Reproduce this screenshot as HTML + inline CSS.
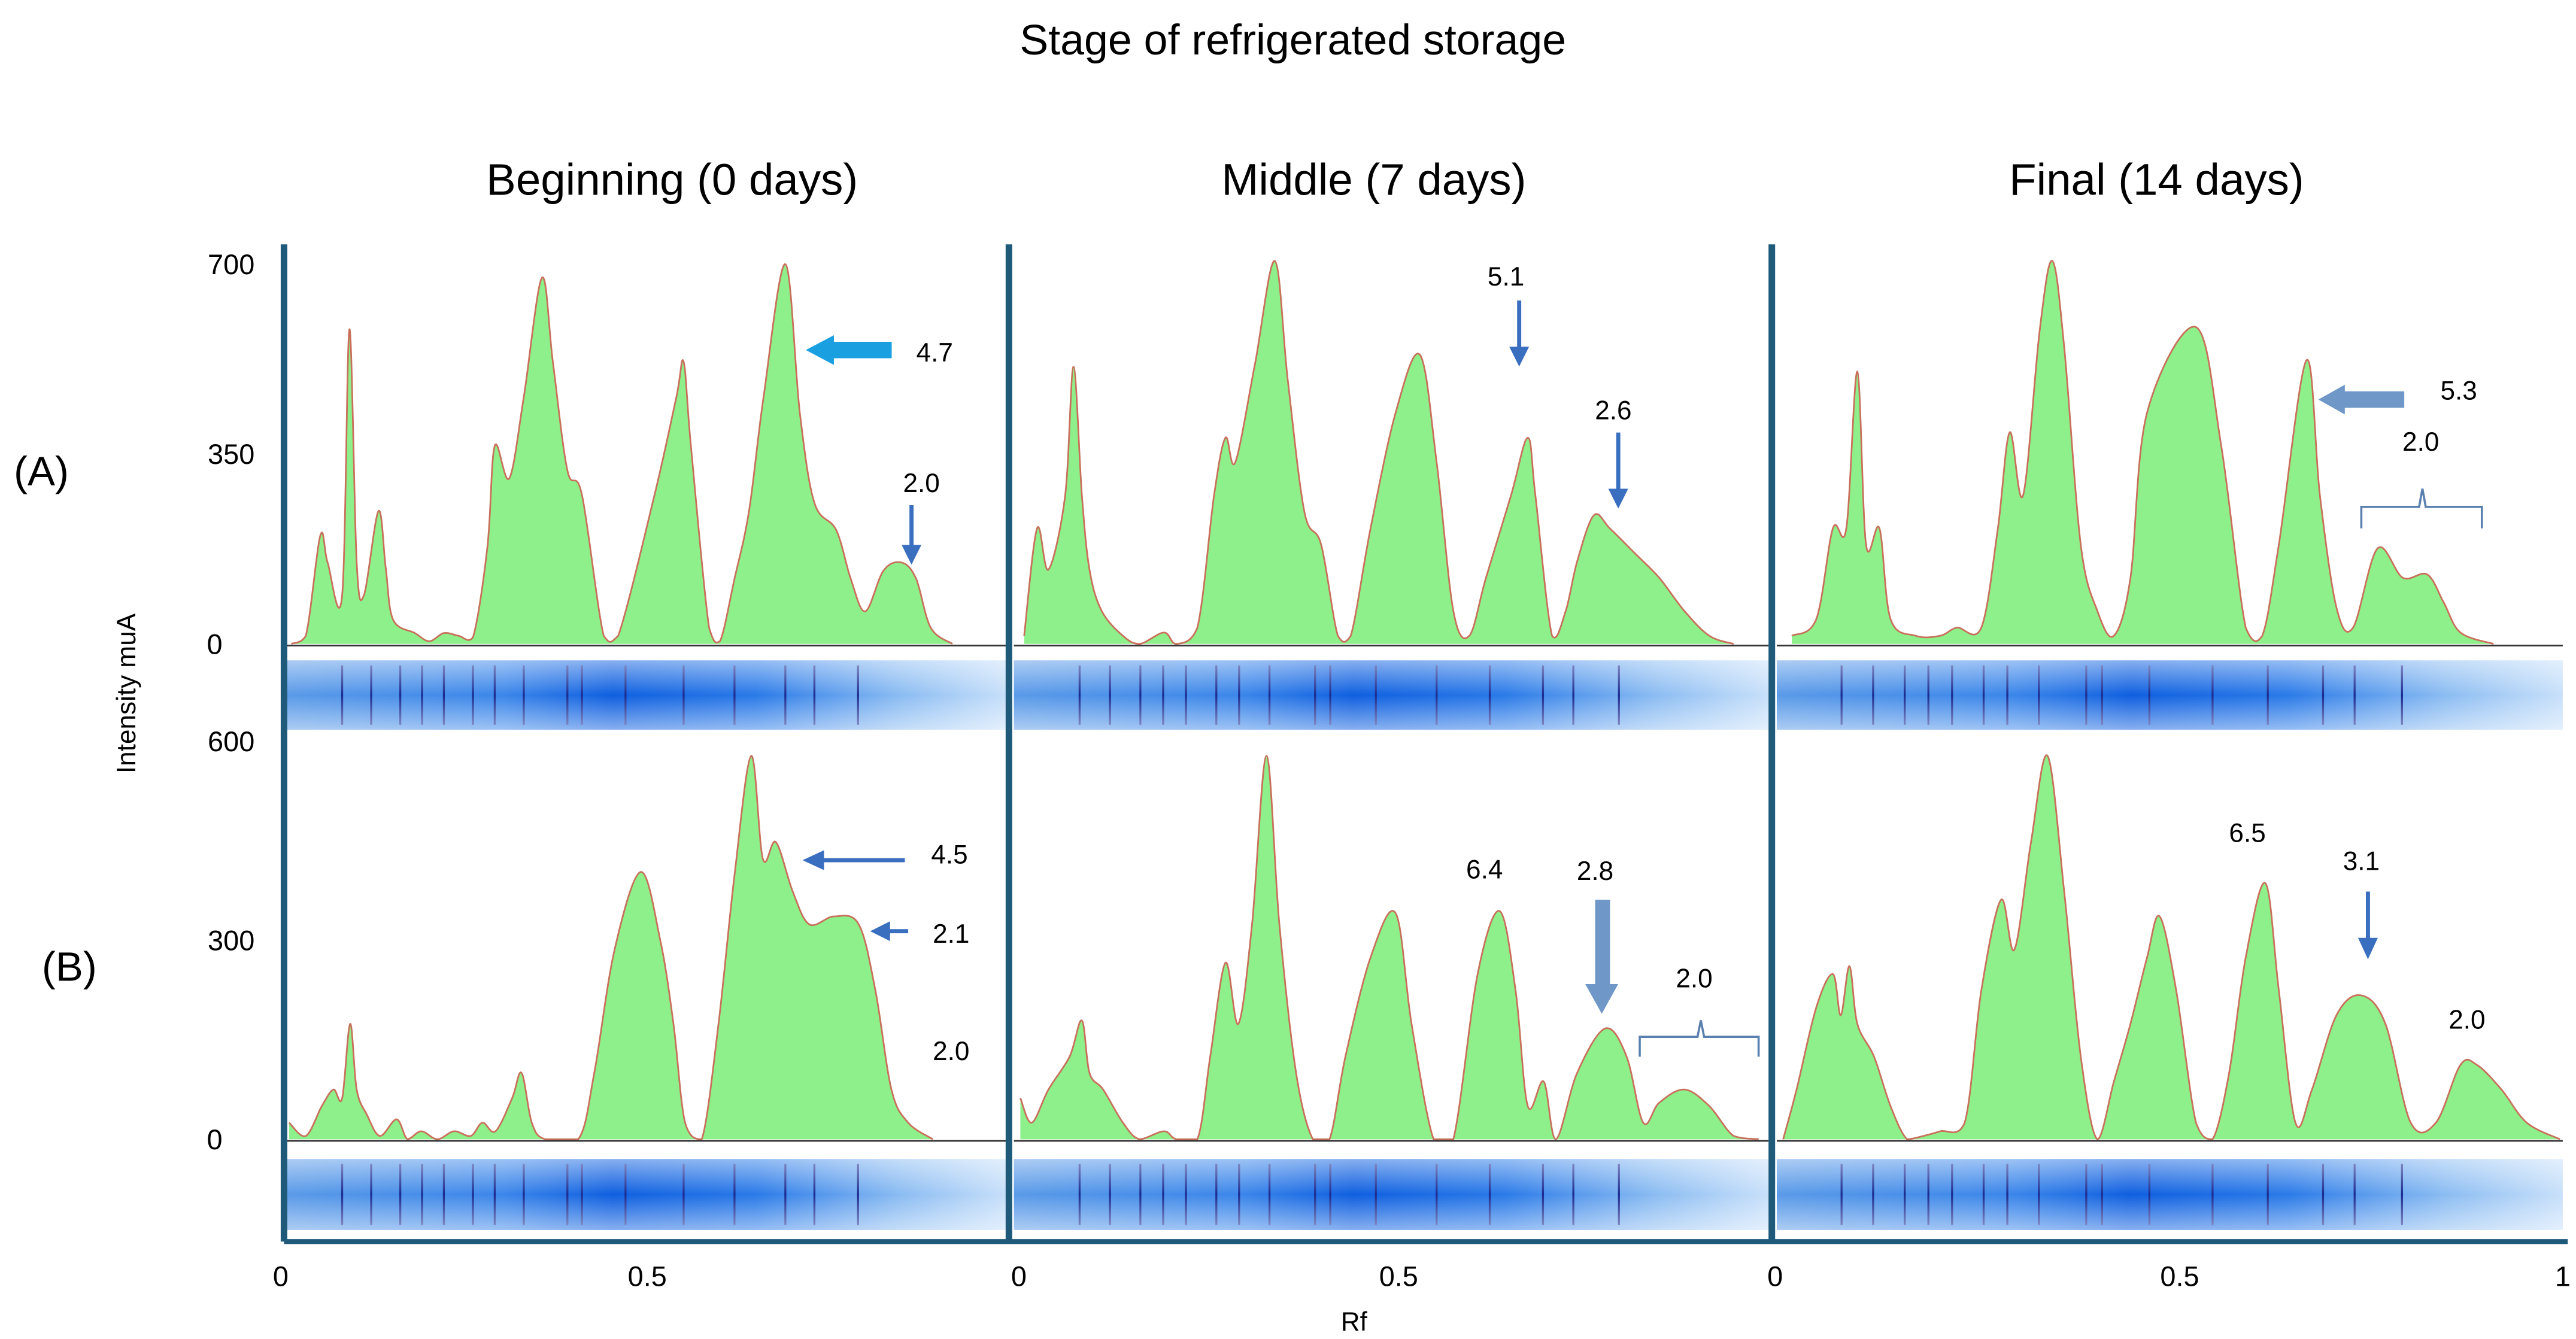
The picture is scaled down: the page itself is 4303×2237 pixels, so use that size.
<!DOCTYPE html>
<html><head><meta charset="utf-8"><style>
html,body{margin:0;padding:0;background:#fff;}
svg{display:block;font-family:"Liberation Sans",sans-serif;}
</style></head><body>
<svg id="chart" width="4303" height="2237" viewBox="0 0 1560 811" xmlns="http://www.w3.org/2000/svg">
<defs>
<linearGradient id="band" x1="0" x2="1" y1="0" y2="0">
<stop offset="0" stop-color="#5a9ae8"/><stop offset="0.3" stop-color="#3b86ea"/><stop offset="0.45" stop-color="#0f5fe0"/><stop offset="0.65" stop-color="#2a7ae8"/><stop offset="0.85" stop-color="#8bbcf2"/><stop offset="1" stop-color="#c8e0fa"/>
</linearGradient>
<linearGradient id="bandv" x1="0" x2="0" y1="0" y2="1">
<stop offset="0" stop-color="#ffffff" stop-opacity="0.5"/><stop offset="0.5" stop-color="#ffffff" stop-opacity="0"/><stop offset="1" stop-color="#ffffff" stop-opacity="0.5"/>
</linearGradient>
</defs>
<text x="783" y="33" font-size="26" text-anchor="middle">Stage of  refrigerated storage</text>
<text x="407" y="118" font-size="27" text-anchor="middle">Beginning (0 days)</text>
<text x="832" y="118" font-size="27" text-anchor="middle">Middle (7 days)</text>
<text x="1306" y="118" font-size="27" text-anchor="middle">Final (14 days)</text>
<text x="25" y="294" font-size="25" text-anchor="middle">(A)</text>
<text x="42" y="594" font-size="25" text-anchor="middle">(B)</text>
<text transform="translate(82,420) rotate(-90)" font-size="16" text-anchor="middle">Intensity muA</text>
<text x="820" y="806" font-size="16" text-anchor="middle">Rf</text>
<g id="plots"></g>
<g id="annot" font-size="16" text-anchor="middle">
<text x="566" y="219">4.7</text>
<text x="558" y="298">2.0</text>
<text x="912" y="173">5.1</text>
<text x="977" y="254">2.6</text>
<text x="1489" y="242">5.3</text>
<text x="1466" y="273">2.0</text>
<text x="575" y="523">4.5</text>
<text x="576" y="571">2.1</text>
<text x="576" y="642">2.0</text>
<text x="899" y="532">6.4</text>
<text x="966" y="533">2.8</text>
<text x="1026" y="598">2.0</text>
<text x="1361" y="510">6.5</text>
<text x="1430" y="527">3.1</text>
<text x="1494" y="623">2.0</text>
</g>
<g id="arrows">
<polygon points="540,207 505,207 505,203 488,212 505,221 505,217 540,217" fill="#1aa0e0"/>
<g stroke="#3a6fc0" stroke-width="2.5" fill="#3a6fc0"><line x1="552" y1="306" x2="552" y2="332"/><polygon points="546,330 558,330 552,342" stroke="none"/></g>
<g stroke="#3a6fc0" stroke-width="2.5" fill="#3a6fc0"><line x1="920" y1="182" x2="920" y2="212"/><polygon points="914,210 926,210 920,222" stroke="none"/></g>
<g stroke="#3a6fc0" stroke-width="2.5" fill="#3a6fc0"><line x1="980" y1="262" x2="980" y2="298"/><polygon points="974,296 986,296 980,308" stroke="none"/></g>
<polygon points="1456,237 1420,237 1420,233 1404,242 1420,251 1420,247 1456,247" fill="#6f98c8"/>
<path d="M1430,320 L1430,307 L1465,307 L1467,296 L1469,307 L1503,307 L1503,320" fill="none" stroke="#5a80b0" stroke-width="1.3"/>
<g stroke="#3a6fc0" stroke-width="2.5" fill="#3a6fc0"><line x1="548" y1="521" x2="497" y2="521"/><polygon points="499,515 499,527 486,521" stroke="none"/></g>
<g stroke="#3a6fc0" stroke-width="2.5" fill="#3a6fc0"><line x1="550" y1="564" x2="537" y2="564"/><polygon points="539,558 539,570 527,564" stroke="none"/></g>
<polygon points="966,545 975,545 975,596 980,596 970,614 960,596 966,596" fill="#6f98c8"/>
<path d="M993,640 L993,628 L1028,628 L1030,618 L1032,628 L1065,628 L1065,640" fill="none" stroke="#5a80b0" stroke-width="1.3"/>
<g stroke="#3a6fc0" stroke-width="2.5" fill="#3a6fc0"><line x1="1434" y1="540" x2="1434" y2="570"/><polygon points="1428,568 1440,568 1434,581" stroke="none"/></g>
</g>
<g id="frame"></g>
</svg>
<script>
// Rf / intensity samples
const rfA1=[0.01,0.03,0.05,0.06,0.08,0.09,0.10,0.11,0.13,0.14,0.15,0.18,0.20,0.22,0.24,0.26,0.28,0.29,0.31,0.33,0.355,0.37,0.39,0.41,0.44,0.46,0.51,0.54,0.55,0.56,0.585,0.60,0.62,0.64,0.66,0.69,0.71,0.73,0.76,0.78,0.80,0.825,0.85,0.87,0.89,0.92];
const intA1=[0,15,200,150,90,580,150,90,245,140,45,20,5,20,15,12,180,365,305,455,675,520,320,275,15,15,275,455,520,365,30,5,120,245,455,700,425,260,210,120,60,135,150,120,30,0];
const rfA2=[.007,.024,.039,.061,.072,.083,.093,.109,.137,.159,.191,.207,.235,.257,.272,.285,.311,.337,.354,.376,.398,.42,.437,.463,.496,.528,.55,.572,.593,.615,.648,.67,.68,.702,.72,.735,.757,.778,.811,.843,.876,.909,.941];
const intA2=[15,213,137,274,511,274,137,61,15,0,21,0,30,274,380,335,517,706,487,243,183,15,15,213,426,533,335,61,15,122,274,380,274,15,61,152,237,213,167,122,61,15,0];
const rfA3=[.017,.048,.069,.086,.1,.111,.128,.142,.174,.205,.226,.257,.278,.293,.31,.331,.347,.362,.383,.404,.425,.446,.467,.529,.561,.592,.613,.634,.669,.686,.707,.728,.759,.791,.822,.843,.864,.906];
const intA3=[15,46,213,213,502,183,213,46,15,15,30,30,213,390,274,578,706,548,183,61,15,122,426,584,365,30,15,183,523,274,67,30,176,122,128,76,21,0];
const rfB1=[.007,.03,.052,.068,.08,.091,.1,.114,.132,.155,.17,.189,.211,.234,.257,.273,.291,.314,.327,.341,.359,.405,.427,.455,.491,.518,.536,.552,.575,.598,.62,.643,.659,.677,.7,.723,.757,.791,.814,.836,.859,.893];
const intB1=[25,5,50,75,62,174,75,37,5,30,0,12,0,12,5,25,12,62,100,25,0,0,100,286,403,299,174,25,0,174,398,578,423,448,374,324,336,324,224,75,25,0];
const rfB2=[.002,.017,.039,.067,.083,.093,.111,.137,.159,.191,.207,.235,.252,.272,.289,.307,.326,.343,.365,.387,.409,.43,.463,.496,.517,.546,.572,.604,.633,.654,.67,.691,.707,.735,.772,.8,.822,.843,.876,.909,.941,.974];
const intB2=[62,25,75,125,179,100,75,25,0,12,0,0,125,266,174,324,578,324,100,0,0,125,274,341,174,0,0,249,344,224,50,87,0,100,167,125,25,55,75,50,5,0];
const rfB3=[.006,.023,.048,.069,.079,.09,.1,.121,.142,.163,.184,.205,.236,.257,.282,.299,.32,.341,.362,.383,.404,.425,.446,.467,.483,.504,.529,.55,.571,.592,.617,.634,.655,.676,.707,.738,.769,.801,.833,.864,.885,.916,.948,.99];
const intB3=[0,75,199,249,187,261,174,125,50,0,5,12,25,224,361,286,448,578,374,125,0,87,174,274,336,224,25,0,100,274,386,224,25,75,187,217,174,25,25,112,112,75,25,0];
const yTicksA=[0,350,700];
const yTicksB=[0,300,600];
const xTickVals=[0,0.5];
const xTickLabels=["0","0.5"];

const NS="http://www.w3.org/2000/svg";
const plots=document.getElementById('plots');
const frame=document.getElementById('frame');
function mk(tag,attrs,parent){const e=document.createElementNS(NS,tag);for(const k in attrs)e.setAttribute(k,attrs[k]);parent.appendChild(e);return e;}
const cols=[{x0:172,w:440,bx:174,bw:437},{x0:617,w:460,bx:614,bw:457},{x0:1077,w:478,bx:1076,bw:476}];
const rows=[{y0:390,ymax:700,h:230,bandY:400,bandH:42},{y0:690,ymax:600,h:241,bandY:702,bandH:43}];
function xS(c,rf){return c.x0+rf*c.w;}
function yS(r,v){return r.y0-v/r.ymax*r.h;}
const series=[[rfA1,intA1],[rfA2,intA2],[rfA3,intA3],[rfB1,intB1],[rfB2,intB2],[rfB3,intB3]];
const bandLines=[0.08,0.12,0.16,0.19,0.22,0.26,0.29,0.33,0.39,0.41,0.47,0.55,0.62,0.69,0.73,0.79];
function smooth(pts,yb){let d=`M${pts[0][0]},${pts[0][1]}`;for(let i=0;i<pts.length-1;i++){const p0=pts[Math.max(0,i-1)],p1=pts[i],p2=pts[i+1],p3=pts[Math.min(pts.length-1,i+2)];const c1x=p1[0]+(p2[0]-p0[0])/6,c1y=Math.min(yb,p1[1]+(p2[1]-p0[1])/6),c2x=p2[0]-(p3[0]-p1[0])/6,c2y=Math.min(yb,p2[1]-(p3[1]-p1[1])/6);d+=` C${c1x},${c1y} ${c2x},${c2y} ${p2[0]},${p2[1]}`;}return d;}
series.forEach((s,i)=>{
  const c=cols[i%3], r=rows[Math.floor(i/3)];
  const pts=s[0].map((rf,j)=>[xS(c,rf),Math.min(r.y0,yS(r,s[1][j]))]);
  const line=smooth(pts,r.y0);
  const area=mk('path',{d:line+` L${pts[pts.length-1][0]},${r.y0} L${pts[0][0]},${r.y0} Z`,fill:'#8ef08a'},plots);
  
  
  const ln=mk('path',{d:line,fill:'none',stroke:'#c8705a','stroke-width':1},plots);
  
  
  const base=mk('line',{x1:c.bx,x2:c.bx+c.bw,y1:r.y0+1,y2:r.y0+1,stroke:'#333','stroke-width':1},plots);
  
  
  const band=mk('rect',{x:c.bx,y:r.bandY,width:c.bw,height:r.bandH,fill:'url(#band)'},plots);
  
  
  bandLines.forEach(b=>{const bl=mk('line',{x1:xS(c,b),x2:xS(c,b),y1:r.bandY+3,y2:r.bandY+r.bandH-3,stroke:'#1a2a90','stroke-width':1.2},plots);
    
    });
  const gl=mk('rect',{x:c.bx,y:r.bandY,width:c.bw,height:r.bandH,fill:'url(#bandv)'},plots);
  
  
});
[yTicksA,yTicksB].forEach((ticks,ri)=>{const r=rows[ri];ticks.forEach(t=>{
  const tx=mk('text',{x:t===0?130:140,y:yS(r,t)+6,'font-size':17,'text-anchor':'middle'},frame);tx.textContent=t;
  
  });});
const xOffsets=[[170,392],[617,847],[1075,1320]];
cols.forEach((c,ci)=>{xTickVals.forEach((v,k)=>{
  const tx=mk('text',{x:xOffsets[ci][k],y:779,'font-size':17,'text-anchor':'middle'},frame);tx.textContent=xTickLabels[k];
  
  });});
const one=mk('text',{x:1552,y:779,'font-size':17,'text-anchor':'middle'},frame);one.textContent='1';


[172,611,1073].forEach(x=>{const l=mk('line',{x1:x,x2:x,y1:148,y2:752,stroke:'#1f5a7a','stroke-width':4},frame);
  
  });
const bl=mk('line',{x1:172,x2:1555,y1:752,y2:752,stroke:'#1f5a7a','stroke-width':3},frame);


</script>
</body></html>
